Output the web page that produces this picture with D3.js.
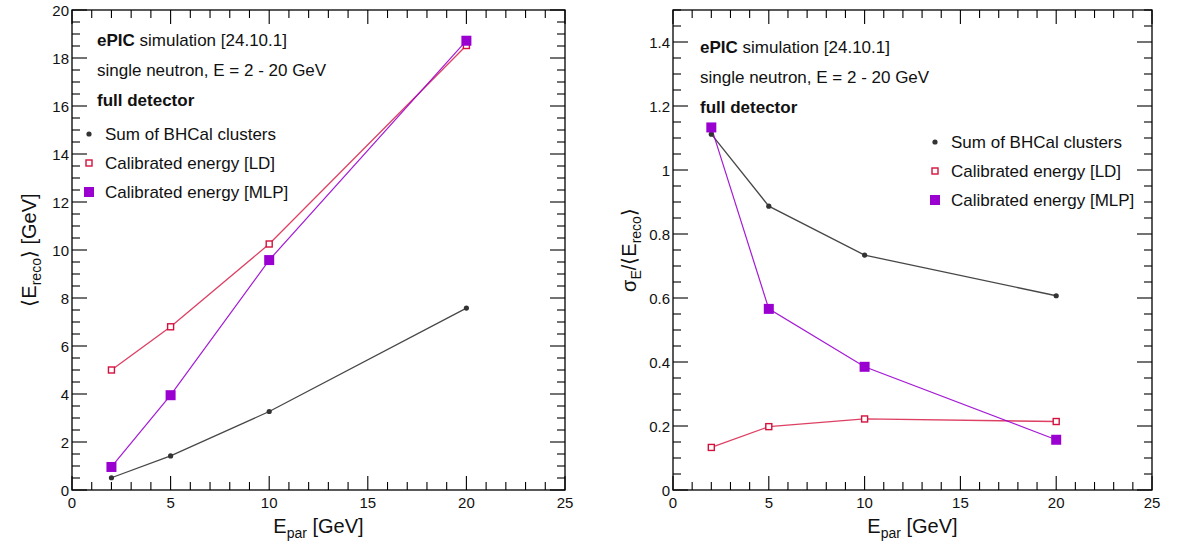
<!DOCTYPE html>
<html><head><meta charset="utf-8">
<script src="https://cdn.jsdelivr.net/npm/d3@7"></script>
<style>
body{margin:0;background:#fff;}
text{font-family:"Liberation Sans",Arial,Helvetica,sans-serif;fill:#111;}
</style></head>
<body>
<svg id="c" width="1178" height="544"></svg>
<script>
const energies = [2, 5, 10, 20];
const meanSum = [0.51, 1.42, 3.27, 7.58];
const meanLD = [5.0, 6.8, 10.25, 18.52];
const meanMLP = [0.96, 3.95, 9.58, 18.72];
const resSum = [1.112, 0.887, 0.734, 0.607];
const resLD = [0.133, 0.198, 0.222, 0.214];
const resMLP = [1.133, 0.566, 0.385, 0.157];
const xTicks = [0, 5, 10, 15, 20, 25];
const leftYTicks = [0, 2, 4, 6, 8, 10, 12, 14, 16, 18, 20];
const rightYTicks = [0, 0.2, 0.4, 0.6, 0.8, 1, 1.2, 1.4];
const legendLabels = ["Sum of BHCal clusters", "Calibrated energy [LD]", "Calibrated energy [MLP]"];

const svg = d3.select("#c");
const colSum = "#333", colLD = "#d4103c", colMLP = "#9a00d0";

function panel(cfg) {
  const g = svg.append("g");
  const x = d3.scaleLinear().domain([0, 25]).range([cfg.x0, cfg.x1]);
  const y = d3.scaleLinear().domain([0, cfg.ymax]).range([490, 10]);
  g.append("rect").attr("x", cfg.x0).attr("y", 10).attr("width", cfg.x1 - cfg.x0).attr("height", 480)
    .attr("fill", "none").attr("stroke", "#000").attr("stroke-width", 1.3);
  const xMinor = d3.range(0, 25.001, 1);
  xMinor.forEach(v => {
    const major = Math.abs(v % 5) < 1e-6;
    const L = major ? 14 : 8;
    g.append("line").attr("x1", x(v)).attr("x2", x(v)).attr("y1", 490).attr("y2", 490 - L).attr("stroke", "#000").attr("stroke-width", 1.1);
    g.append("line").attr("x1", x(v)).attr("x2", x(v)).attr("y1", 10).attr("y2", 10 + L).attr("stroke", "#000").attr("stroke-width", 1.1);
  });
  const yMinor = d3.range(0, cfg.ymax + 1e-9, cfg.minor);
  yMinor.forEach(v => {
    const major = Math.abs(v / cfg.major - Math.round(v / cfg.major)) < 1e-6;
    const L = major ? 15 : 8;
    g.append("line").attr("x1", cfg.x0).attr("x2", cfg.x0 + L).attr("y1", y(v)).attr("y2", y(v)).attr("stroke", "#000").attr("stroke-width", 1.1);
    g.append("line").attr("x1", cfg.x1).attr("x2", cfg.x1 - L).attr("y1", y(v)).attr("y2", y(v)).attr("stroke", "#000").attr("stroke-width", 1.1);
  });
  xTicks.forEach(v => {
    g.append("text").attr("x", x(v)).attr("y", 508).attr("text-anchor", "middle").attr("font-size", 15).text(d3.format("d")(v));
  });
  cfg.yTicks.forEach(v => {
    g.append("text").attr("x", cfg.x0 - 3).attr("y", y(v) + 5.5).attr("text-anchor", "end").attr("font-size", 15).text(cfg.fmt(v));
  });
  const xt = g.append("text").attr("x", (cfg.x0 + cfg.x1) / 2).attr("y", 533).attr("text-anchor", "middle").attr("font-size", 20);
  xt.append("tspan").text("E");
  xt.append("tspan").attr("font-size", 14).attr("dy", 5).text("par");
  xt.append("tspan").attr("dy", -5).text(" [GeV]");
  const yt = g.append("text").attr("transform", `translate(${cfg.ytx},250) rotate(-90)`).attr("text-anchor", "middle").attr("font-size", 20);
  cfg.ytitle(yt);

  const line = d3.line().x((d, i) => x(energies[i])).y(d => y(d));
  const series = [
    {v: cfg.sum, c: colSum, w: 1.3, m: "circle"},
    {v: cfg.ld, c: colLD, w: 1.3, m: "open"},
    {v: cfg.mlp, c: colMLP, w: 1.2, m: "full"}
  ];
  series.forEach(s => {
    g.append("path").attr("d", line(s.v)).attr("fill", "none").attr("stroke", s.c).attr("stroke-width", s.w).attr("stroke-opacity", s.m === "open" ? 0.8 : 0.9);
  });
  series.forEach(s => {
    s.v.forEach((d, i) => drawMarker(g, s.m, x(energies[i]), y(d)));
  });
  const t1 = g.append("text").attr("x", cfg.tx).attr("y", cfg.ty).attr("font-size", 17);
  t1.append("tspan").attr("font-weight", "bold").text("ePIC");
  t1.append("tspan").text(" simulation [24.10.1]");
  g.append("text").attr("x", cfg.tx).attr("y", cfg.ty + 30).attr("font-size", 17).text("single neutron, E = 2 - 20 GeV");
  g.append("text").attr("x", cfg.tx).attr("y", cfg.ty + 60).attr("font-size", 17).attr("font-weight", "bold").text("full detector");
  legendLabels.forEach((lab, i) => {
    const yy = cfg.ly + i * 29;
    drawMarker(g, series[i].m, cfg.lx, yy);
    g.append("text").attr("x", cfg.lx + 16).attr("y", yy + 6).attr("font-size", 17).text(lab);
  });
}

function drawMarker(g, m, cx, cy) {
  if (m === "circle") {
    g.append("circle").attr("cx", cx).attr("cy", cy).attr("r", 2.6).attr("fill", colSum);
  } else if (m === "open") {
    g.append("rect").attr("x", cx - 3).attr("y", cy - 3).attr("width", 6).attr("height", 6).attr("fill", "#fff").attr("stroke", colLD).attr("stroke-width", 1.4);
  } else {
    g.append("rect").attr("x", cx - 5).attr("y", cy - 5).attr("width", 10).attr("height", 10).attr("fill", colMLP);
  }
}

panel({x0: 72, x1: 565, ymax: 20, minor: 0.5, major: 2, yTicks: leftYTicks, fmt: d3.format("d"),
  sum: meanSum, ld: meanLD, mlp: meanMLP, tx: 97, ty: 46, lx: 89, ly: 134, ytx: 36,
  ytitle: t => {
    t.append("tspan").text("\u27E8E");
    t.append("tspan").attr("font-size", 14).attr("dy", 5).text("reco");
    t.append("tspan").attr("dy", -5).text("\u27E9 [GeV]");
  }});
panel({x0: 673, x1: 1152, ymax: 1.5, minor: 0.05, major: 0.2, yTicks: rightYTicks, fmt: v => v === 0 ? "0" : (v === 1 ? "1" : d3.format(".1f")(v)),
  sum: resSum, ld: resLD, mlp: resMLP, tx: 700, ty: 53, lx: 935, ly: 142, ytx: 636,
  ytitle: t => {
    t.append("tspan").text("\u03C3");
    t.append("tspan").attr("font-size", 14).attr("dy", 5).text("E");
    t.append("tspan").attr("dy", -5).text("/\u27E8E");
    t.append("tspan").attr("font-size", 14).attr("dy", 5).text("reco");
    t.append("tspan").attr("dy", -5).text("\u27E9");
  }});
</script>
</body></html>
